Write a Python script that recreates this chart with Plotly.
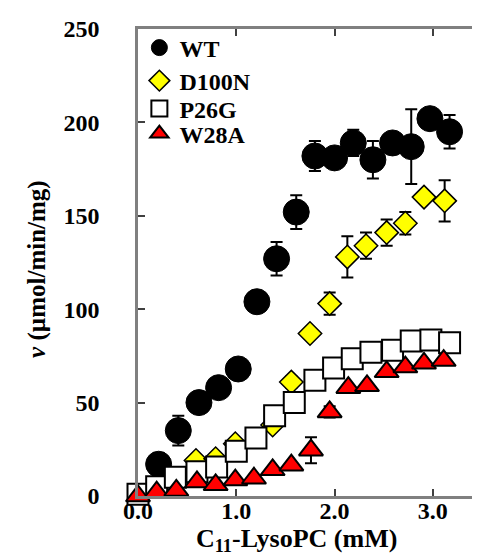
import plotly.graph_objects as go

# ---- data ----
wt_x = [0.21, 0.41, 0.62, 0.82, 1.02, 1.21, 1.41, 1.61, 1.80, 2.00, 2.19, 2.39, 2.59, 2.78, 2.97, 3.17]
wt_y = [17, 35, 50, 58, 68, 104, 127, 152, 182, 181, 189, 180, 189, 187, 202, 195]
wt_err = [6, 8, 3, 3, 3, 3, 9, 9, 8, 2, 7, 10, 3, 20, 3, 9]

d100n_x = [0.59, 0.79, 0.99, 1.37, 1.56, 1.75, 1.95, 2.13, 2.32, 2.53, 2.72, 2.91, 3.12]
d100n_y = [19, 20, 28, 38, 61, 87, 103, 128, 134, 141, 146, 160, 158]
d100n_err = [0, 0, 0, 0, 3, 3, 6, 11, 7, 7, 6, 3, 11]

p26g_x = [0.0, 0.19, 0.38, 0.60, 0.80, 1.00, 1.20, 1.39, 1.59, 1.80, 1.99, 2.18, 2.37, 2.59, 2.78, 2.98, 3.17]
p26g_y = [1, 5, 10, 13, 15.5, 24, 31, 43, 50, 62, 68.5, 73.5, 77, 78, 83, 83.5, 82]

w28a_x = [0.0, 0.19, 0.39, 0.60, 0.79, 0.99, 1.18, 1.37, 1.56, 1.76, 1.95, 2.14, 2.33, 2.53, 2.72, 2.91, 3.11]
w28a_y = [0, 2, 3, 7.5, 6, 8.5, 9.5, 14, 16.5, 24.5, 45, 58, 59, 66.5, 69, 71, 72.5]
w28a_err = [0, 0, 0, 0, 0, 0, 0, 0, 0, 7, 3, 0, 0, 0, 0, 0, 0]

series_names = ["WT", "D100N", "P26G", "W28A"]
x_ticks = [0, 1, 2, 3]
y_ticks = [0, 50, 100, 150, 200, 250]

FONT = "Liberation Serif"

fig = go.Figure()

def eb(arr):
    return dict(type="data", array=arr, visible=True, color="black", thickness=2, width=6)

legend_ids = ["legend", "legend2", "legend3", "legend4"]

fig.add_trace(go.Scatter(
    x=wt_x, y=wt_y, mode="markers", name="<b>%s</b>" % series_names[0], legend=legend_ids[0],
    showlegend=True,
    marker=dict(symbol="circle", size=26, color="black", line=dict(color="black", width=1)),
    error_y=eb(wt_err), cliponaxis=False))
fig.add_trace(go.Scatter(
    x=d100n_x, y=d100n_y, mode="markers", name="<b>%s</b>" % series_names[1], legend=legend_ids[1],
    showlegend=True,
    marker=dict(symbol="diamond", size=18, color="#FFFF00", line=dict(color="black", width=1.5)),
    error_y=eb(d100n_err), cliponaxis=False))
fig.add_trace(go.Scatter(
    x=p26g_x, y=p26g_y, mode="markers", name="<b>%s</b>" % series_names[2], legend=legend_ids[2],
    showlegend=True,
    marker=dict(symbol="square", size=21, color="white", line=dict(color="black", width=2)),
    cliponaxis=False))
fig.add_trace(go.Scatter(
    x=w28a_x, y=w28a_y, mode="markers", name="<b>%s</b>" % series_names[3], legend=legend_ids[3],
    showlegend=True,
    marker=dict(symbol="triangle-up", size=21, color="#FF0000", line=dict(color="black", width=2)),
    error_y=eb(w28a_err), cliponaxis=False))

axis_common = dict(
    showline=True, linecolor="#808080", linewidth=2.5, mirror="ticks",
    ticks="inside", ticklen=7, tickwidth=2, tickcolor="#404040",
    showgrid=False, zeroline=False,
    tickfont=dict(family=FONT, size=24, color="black", weight="bold"),
)

fig.update_xaxes(range=[0, 3.5], tickvals=x_ticks, ticktext=[f"{v:.1f}" for v in x_ticks],
                 ticklabelstandoff=-9, **axis_common)
fig.update_yaxes(range=[0, 250], tickvals=y_ticks, ticktext=[str(v) for v in y_ticks],
                 ticklabelstandoff=31, **axis_common)

# one legend per series, stacked at the reference's row positions
row_px = [40, 73, 101, 126]
leg_common = dict(x=0.004, xanchor="left", yanchor="middle", bgcolor="rgba(0,0,0,0)",
                  font=dict(family=FONT, size=24, color="black"), itemsizing="trace")
legends = {}
for lid, py in zip(legend_ids, row_px):
    legends[lid] = dict(y=(488 - py) / 467, **leg_common)

fig.update_layout(
    width=480, height=555, autosize=False,
    margin=dict(l=130, r=3, t=21, b=67),
    paper_bgcolor="white", plot_bgcolor="white",
    font=dict(family=FONT, color="black"),
    showlegend=True,
    annotations=[
        dict(text="<b><i>v</i> (µmol/min/mg)</b>", xref="paper", yref="paper",
             x=-0.294, y=0.486, xanchor="center", yanchor="middle", textangle=-90,
             showarrow=False, font=dict(family=FONT, size=25, color="black")),
        dict(text="<b>C<sub>11</sub>-LysoPC (mM)</b>", xref="paper", yref="paper",
             x=0.46, y=-0.132, xanchor="center", yanchor="bottom",
             showarrow=False, font=dict(family=FONT, size=26, color="black")),
    ],
    **legends,
)

fig.write_html("out.html")
